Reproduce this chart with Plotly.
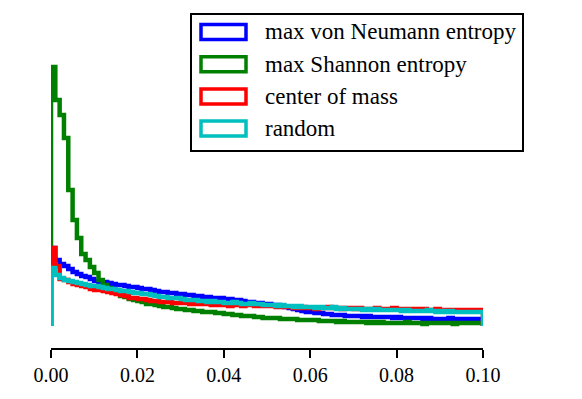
import numpy as np
import plotly.graph_objects as go

# histogram heights per bin (bin width 0.001, arbitrary units)
bin_width = 0.001
labels = ['max von Neumann entropy', 'max Shannon entropy', 'center of mass', 'random']
colors = ['#0000ff', '#008000', '#ff0000', '#00bfbf']

von_neumann = [
    78, 66, 62, 60, 57, 54, 52, 50, 49, 47,
    45, 44, 44, 43, 42, 41, 41, 40, 39, 39,
    38, 37, 37, 36, 35, 34, 34, 33, 33, 32,
    32, 31, 31, 30, 30, 29, 29, 28, 28, 28,
    27, 27, 26, 26, 25, 24, 24, 23, 23, 22,
    22, 21, 21, 20, 19, 18, 17, 16, 15, 14,
    14, 13, 13, 12, 12, 11, 11, 11, 10, 10,
    10, 10, 9, 10, 9, 9, 9, 9, 9, 8,
    9, 8, 8, 8, 8, 8, 7, 8, 7, 7,
    7, 7, 8, 7, 7, 7, 6, 7, 7, 7,
]
shannon = [
    259, 226, 211, 188, 136, 106, 88, 72, 66, 59,
    53, 46, 41, 38, 35, 33, 30, 29, 27, 26,
    25, 24, 22, 22, 21, 20, 19, 19, 18, 17,
    17, 16, 16, 15, 15, 14, 14, 14, 13, 13,
    12, 12, 11, 11, 10, 10, 10, 9, 9, 8,
    8, 8, 8, 7, 7, 7, 7, 6, 6, 6,
    6, 6, 5, 5, 5, 5, 4, 5, 4, 4,
    4, 4, 4, 3, 4, 3, 4, 3, 3, 3,
    3, 3, 4, 3, 3, 3, 2, 3, 3, 3,
    3, 3, 3, 2, 3, 3, 3, 3, 3, 3,
]
center_of_mass = [
    78, 60, 47, 46, 44, 42, 41, 40, 39, 37,
    36, 36, 35, 34, 33, 32, 31, 30, 28, 28,
    27, 27, 26, 25, 25, 24, 24, 24, 23, 23,
    23, 23, 22, 23, 22, 22, 22, 21, 21, 21,
    21, 20, 21, 21, 20, 21, 21, 20, 21, 20,
    20, 20, 19, 20, 19, 19, 18, 18, 19, 18,
    18, 17, 18, 18, 19, 18, 18, 17, 18, 18,
    17, 18, 17, 17, 17, 18, 17, 17, 17, 18,
    17, 17, 16, 17, 17, 16, 17, 16, 16, 17,
    16, 16, 16, 15, 16, 16, 16, 15, 16, 16,
]
random_sel = [
    58, 51, 48, 46, 45, 44, 43, 42, 41, 40,
    40, 39, 38, 37, 37, 36, 35, 35, 34, 33,
    33, 32, 32, 31, 30, 29, 29, 28, 28, 28,
    27, 26, 26, 26, 25, 25, 24, 25, 24, 24,
    23, 23, 24, 23, 22, 22, 23, 22, 22, 21,
    21, 21, 20, 21, 20, 20, 19, 20, 19, 19,
    19, 18, 19, 18, 18, 19, 17, 18, 17, 17,
    17, 17, 16, 17, 16, 17, 16, 16, 16, 16,
    16, 15, 16, 15, 15, 15, 15, 16, 15, 14,
    15, 14, 15, 14, 14, 14, 14, 14, 14, 14,
]
series = [von_neumann, shannon, center_of_mass, random_sel]

W, H = 582, 399
OFF = 8  # page body margin
L, R, T, B = 43, 107, 52, 59
FONT = 'Liberation Serif'


def px(x, y):
    # screen pixel position -> paper coords
    x, y = x - OFF, y - OFF
    return (x - L) / (W - L - R), (H - B - y) / (H - T - B)


fig = go.Figure()
for vals, name, col in zip(series, labels, colors):
    edges = np.arange(len(vals) + 1) * bin_width
    xs = np.concatenate([[0.0], edges[:-1], [edges[-1], edges[-1]]])
    ys = np.concatenate([[0.0], vals, [vals[-1], 0.0]])
    fig.add_trace(go.Scatter(x=xs, y=ys, mode='lines', name=name,
                             line=dict(color=col, width=4.5, shape='hv'),
                             showlegend=False))

# hand-made legend (outlined boxes like matplotlib step hist)
shapes = []
annotations = []
x0, y0 = px(191, 151)
x1, y1 = px(523, 14)
shapes.append(dict(type='rect', xref='paper', yref='paper', x0=x0, y0=y0, x1=x1, y1=y1,
                   line=dict(color='black', width=2), fillcolor='white', layer='above'))
for i, (name, col) in enumerate(zip(labels, colors)):
    cy = 32 + i * 32.2
    a0, b0 = px(201, cy + 7.5)
    a1, b1 = px(246, cy - 7.5)
    shapes.append(dict(type='rect', xref='paper', yref='paper', x0=a0, y0=b0, x1=a1, y1=b1,
                       line=dict(color=col, width=3.5), fillcolor='white', layer='above'))
    tx, ty = px(263, cy)
    annotations.append(dict(x=tx, y=ty, xref='paper', yref='paper', text=name,
                            showarrow=False, xanchor='left', yanchor='middle',
                            font=dict(family=FONT, size=23, color='black')))

fig.update_layout(
    width=W, height=H,
    margin=dict(l=L, r=R, t=T, b=B),
    paper_bgcolor='white', plot_bgcolor='white',
    shapes=shapes, annotations=annotations,
    font=dict(family=FONT, size=20, color='black'),
    xaxis=dict(range=[0, 0.1], tickvals=[0, 0.02, 0.04, 0.06, 0.08, 0.1],
               ticktext=['0.00', '0.02', '0.04', '0.06', '0.08', '0.10'],
               showline=True, linecolor='black', linewidth=1.5,
               ticks='outside', ticklen=8, tickwidth=1.5, tickcolor='black',
               showgrid=False, zeroline=False),
    yaxis=dict(range=[-22, 266], visible=False, showgrid=False, zeroline=False),
)

fig.write_html('out.html')
